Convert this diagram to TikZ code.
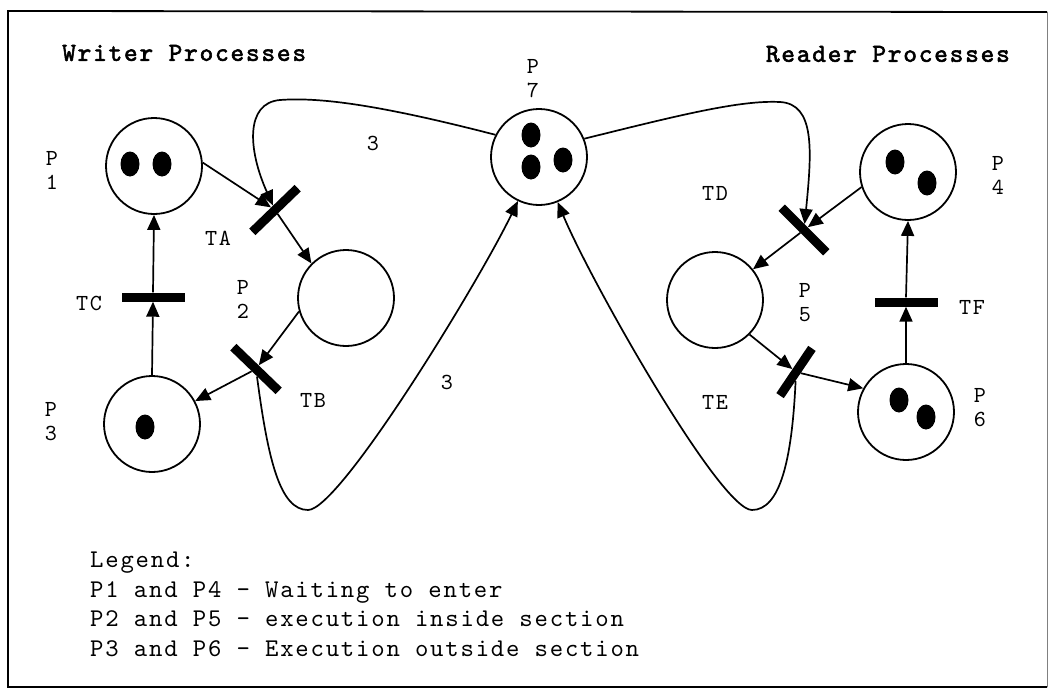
\documentclass[tikz,border=0pt]{standalone}
\usepackage{fontspec}
\newfontfamily\cour{lmmono10-regular.otf}[LetterSpace=7,AutoFakeBold=2.2]
\usetikzlibrary{arrows.meta,shapes.geometric}
\begin{document}
\begin{tikzpicture}[x=1pt,y=-1pt,
  place/.style={circle,draw,line width=1.8pt,minimum size=96pt,inner sep=0pt},
  trans/.style={rectangle,fill=black,minimum width=63pt,minimum height=9pt,inner sep=0pt},
  token/.style={ellipse,fill=black,minimum width=19pt,minimum height=25pt,inner sep=0pt},
  arc/.style={-{Triangle[length=15pt,width=13pt]},line width=1.7pt},
  lbl/.style={font=\cour\fontsize{23}{24}\selectfont,align=center,inner sep=0pt},
  title/.style={font=\cour\bfseries\fontsize{26}{28}\selectfont,inner sep=0pt},
  legend/.style={font=\cour\fontsize{25.5}{29.5}\selectfont,align=left,inner sep=0pt}]
\useasboundingbox (0,0) rectangle (1052,696);
\fill[white] (0,0) rectangle (1052,696);

% frame
\draw[line width=1.8pt] (1047,12) -- (8,11) -- (8,687) -- (1047,687);
\draw[line width=0.8pt,gray] (1047,12) -- (1047,687);

% headings
\node[title,anchor=west] (hw) at (62,53) {Writer Processes};
\node[title,anchor=east] (hr) at (1010,54) {Reader Processes};

% places
\node[place] (p1) at (154,166) {};
\node[place] (p2) at (346,298) {};
\node[place] (p3) at (152,424) {};
\node[place] (p7) at (539,157) {};
\node[place] (p4) at (908,172) {};
\node[place] (p5) at (715,300) {};
\node[place] (p6) at (906,412) {};

% tokens
\node[token] (k1a) at (130,164) {};
\node[token] (k1b) at (162,164) {};
\node[token] (k3a) at (145,427) {};
\node[token] (k7a) at (531,135) {};
\node[token] (k7b) at (531,167) {};
\node[token] (k7c) at (563,160) {};
\node[token] (k4a) at (895,162) {};
\node[token] (k4b) at (927,183) {};
\node[token] (k6a) at (899,400) {};
\node[token] (k6b) at (926,417) {};

% transitions
\node[trans,rotate=44] (ta) at (275,210) {};
\node[trans,rotate=-44] (tb) at (256,369) {};
\node[trans] (tc) at (153,297) {};
\node[trans,rotate=-45] (td) at (804,230) {};
\node[trans,rotate=56,minimum width=57pt] (te) at (796,372) {};
\node[trans] (tf) at (906,302) {};

% labels
\node[lbl] (lp1) at (52,170) {P\\1};
\node[lbl] (lp3) at (51,422) {P\\3};
\node[lbl] (lp2) at (243,299) {P\\2};
\node[lbl] (lp7) at (533,79) {P\\7};
\node[lbl] (lp4) at (998,175) {P\\4};
\node[lbl] (lp5) at (805,303) {P\\5};
\node[lbl] (lp6) at (980,408) {P\\6};
\node[lbl] (lta) at (218,238) {TA};
\node[lbl] (ltb) at (313,400) {TB};
\node[lbl] (ltc) at (89,303) {TC};
\node[lbl] (ltd) at (715,193) {TD};
\node[lbl] (lte) at (715,402) {TE};
\node[lbl] (ltf) at (972,307) {TF};
\node[lbl] (w1) at (373,143) {3};
\node[lbl] (w2) at (447,382) {3};

% writer cycle
\draw[arc] (p1.4) -- (ta);
\draw[arc] (ta) -- (p2.135);
\draw[arc] (p2.196) -- (tb);
\draw[arc] (tb) -- (p3.28);
\draw[arc] (p3.north) -- (tc.south);
\draw[arc] (tc.north) -- (p1.south);

% reader cycle
\draw[arc] (p4.198) -- (td);
\draw[arc] (td) -- (p5.39);
\draw[arc] (p5.-45) -- (te);
\draw[arc] (te) -- (p6.151);
\draw[arc] (p6.north) -- (tf.south);
\draw[arc] (tf.north) -- (p4.south);

% shared place P7
\draw[arc] (p7.153) .. controls (380,105) and (320,97) .. (280,100)
  .. controls (245,103) and (248,150) .. (ta);
\draw[arc] (p7.22) .. controls (680,115) and (740,100) .. (780,102)
  .. controls (815,104) and (812,150) .. (td);
\draw[arc] (tb) .. controls (268,460) and (280,510) .. (308,510)
  .. controls (340,510) and (480,280) .. (p7);
\draw[arc] (te) .. controls (792,460) and (780,510) .. (752,510)
  .. controls (720,510) and (590,280) .. (p7);

% legend
\node[legend,anchor=north west] (leg) at (90,552) {Legend:\\
P1 and P4 - Waiting to enter\\
P2 and P5 - execution inside section\\
P3 and P6 - Execution outside section};
\end{tikzpicture}
\end{document}
